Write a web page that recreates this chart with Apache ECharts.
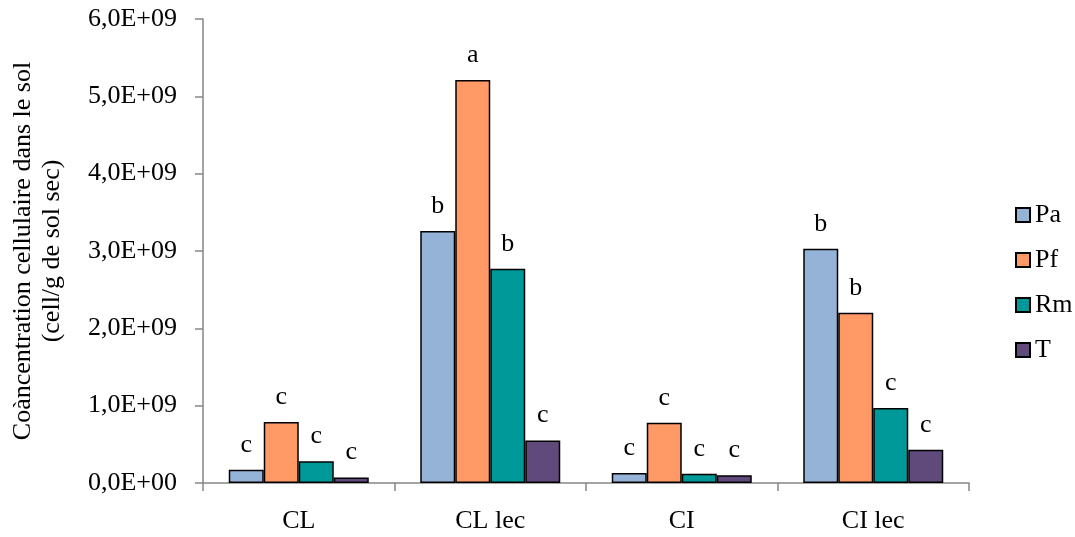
<!DOCTYPE html>
<html>
<head>
<meta charset="utf-8">
<script src="https://cdn.jsdelivr.net/npm/echarts@6/dist/echarts.min.js"></script>
<style>html,body{margin:0;padding:0;background:#fff}#c{width:1075px;height:537px}</style>
</head>
<body>
<div id="c"></div>
<script>
const categories = ['CL', 'CL lec', 'CI', 'CI lec'];
const seriesNames = ['Pa', 'Pf', 'Rm', 'T'];
const Pa = [0.17e9, 3.26e9, 0.13e9, 3.03e9];
const Pf = [0.79e9, 5.21e9, 0.78e9, 2.20e9];
const Rm = [0.28e9, 2.77e9, 0.12e9, 0.97e9];
const T  = [0.07e9, 0.55e9, 0.10e9, 0.43e9];
const letters = {
  Pa: ['c', 'b', 'c', 'b'],
  Pf: ['c', 'a', 'c', 'b'],
  Rm: ['c', 'b', 'c', 'c'],
  T:  ['c', 'c', 'c', 'c']
};
const yTicks = ['0,0E+00','1,0E+09','2,0E+09','3,0E+09','4,0E+09','5,0E+09','6,0E+09'];
const colors = ['#95B3D7', '#FF9966', '#009999', '#604A7B'];
const values = [Pa, Pf, Rm, T];

const font = 'Liberation Serif';
const fs = 26;
const chart = echarts.init(document.getElementById('c'));
chart.setOption({
  animation: false,
  textStyle: { fontFamily: font },
  grid: { left: 203, right: 106, top: 19, bottom: 54, containLabel: false, outerBoundsMode: 'none' },
  legend: {
    orient: 'vertical', left: 1010, top: 197, itemWidth: 14, itemHeight: 14, itemGap: 19,
    icon: 'rect',
    textStyle: { fontFamily: font, fontSize: fs, color: '#000' },
    data: seriesNames
  },
  xAxis: {
    type: 'category', data: categories,
    axisLine: { lineStyle: { color: '#868686', width: 1.5 } },
    axisTick: { show: true, length: 8, lineStyle: { color: '#868686', width: 1.5 } },
    axisLabel: { color: '#000', fontSize: fs, fontFamily: font, margin: 25 }
  },
  yAxis: {
    type: 'value', min: 0, max: 6e9, interval: 1e9,
    name: 'Coàncentration cellulaire dans le sol\n(cell/g de sol sec)',
    nameLocation: 'middle', nameRotate: 90, nameGap: 136,
    nameTextStyle: { color: '#000', fontSize: fs, fontFamily: font, lineHeight: 29 },
    splitLine: { show: false },
    axisLine: { show: true, lineStyle: { color: '#868686', width: 1.5 } },
    axisTick: { show: true, length: 8, lineStyle: { color: '#868686', width: 1.5 } },
    axisLabel: {
      color: '#000', fontSize: fs, fontFamily: font, margin: 26,
      formatter: function (v) { return yTicks[Math.round(v / 1e9)]; }
    }
  },
  series: seriesNames.map(function (n, i) {
    return {
      name: n, type: 'bar', barWidth: 35, barGap: '0%',
      itemStyle: { color: colors[i], borderColor: '#000', borderWidth: 1.5 },
      label: {
        show: true, position: 'top', distance: 12, color: '#000', fontSize: fs, fontFamily: font,
        formatter: function (p) { return letters[n][p.dataIndex]; }
      },
      data: values[i]
    };
  })
});
</script>
</body>
</html>
